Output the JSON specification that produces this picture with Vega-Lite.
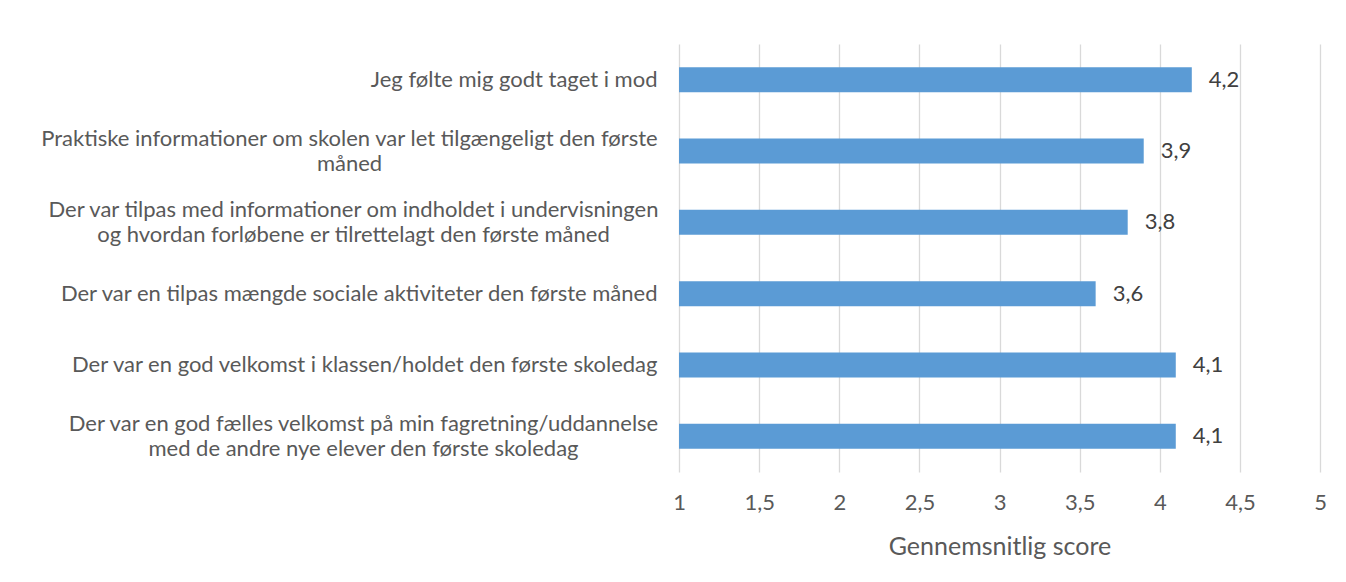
{
  "$schema": "https://vega.github.io/schema/vega-lite/v6.json",
  "autosize": {"type": "none"},
  "width": 641,
  "height": 428,
  "padding": {"left": 679, "top": 44, "right": 26, "bottom": 110},
  "background": "white",
  "config": {
    "locale": {"number": {"decimal": ",", "thousands": ".", "grouping": [3], "currency": ["", " kr"]}},
    "view": {"stroke": null},
    "font": "Lato, sans-serif"
  },
  "data": {
    "values": [
      {"label": "Jeg følte mig godt taget i mod", "score": 4.2},
      {"label": "Praktiske informationer om skolen var let tilgængeligt den første|måned", "score": 3.9},
      {"label": "Der var tilpas med informationer om indholdet i undervisningen|og hvordan forløbene er tilrettelagt den første måned", "score": 3.8},
      {"label": "Der var en tilpas mængde sociale aktiviteter den første måned", "score": 3.6},
      {"label": "Der var en god velkomst i klassen/holdet den første skoledag", "score": 4.1},
      {"label": "Der var en god fælles velkomst på min fagretning/uddannelse|med de andre nye elever den første skoledag", "score": 4.1}
    ]
  },
  "encoding": {
    "y": {
      "field": "label",
      "type": "nominal",
      "sort": null,
      "scale": {"paddingInner": 0.65, "paddingOuter": 0.325},
      "axis": {
        "title": null,
        "domain": false,
        "ticks": false,
        "grid": false,
        "labelExpr": "split(datum.label, '|')",
        "labelFontSize": 22,
        "labelColor": "#595959",
        "labelLineHeight": 25,
        "labelLimit": 700,
        "labelAlign": {"condition": {"test": "indexof(datum.value, '|') >= 0", "value": "center"}, "value": "right"},
        "labelPadding": {
          "condition": [
            {"test": "indexof(datum.value, 'Praktiske') == 0", "value": 330},
            {"test": "indexof(datum.value, 'Der var tilpas med') == 0", "value": 326},
            {"test": "indexof(datum.value, 'Der var en god fælles') == 0", "value": 316}
          ],
          "value": 22
        },
        "labelOffset": {"condition": {"test": "indexof(datum.value, '|') >= 0", "value": -12.5}, "value": 0}
      }
    },
    "x": {
      "field": "score",
      "type": "quantitative",
      "scale": {"domain": [1, 5], "nice": false, "zero": false},
      "axis": {
        "values": [1, 1.5, 2, 2.5, 3, 3.5, 4, 4.5, 5],
        "format": ".1~f",
        "title": "Gennemsnitlig score",
        "titleFontSize": 25,
        "titleFontWeight": "normal",
        "titleColor": "#595959",
        "titlePadding": 21,
        "domain": false,
        "ticks": false,
        "grid": true,
        "gridColor": "#d9d9d9",
        "gridWidth": 1.3,
        "labelFlush": false,
        "labelOverlap": false,
        "labelPadding": 20,
        "labelFontSize": 22,
        "labelColor": "#595959"
      }
    },
    "x2": {"datum": 1}
  },
  "layer": [
    {"mark": {"type": "bar", "color": "#5B9BD5"}},
    {
      "mark": {"type": "text", "align": "left", "baseline": "middle", "dx": 17, "fontSize": 22, "color": "#404040"},
      "encoding": {
        "x": {"field": "score", "type": "quantitative"},
        "x2": null,
        "text": {"field": "score", "type": "quantitative", "format": ".1f"}
      }
    }
  ]
}
